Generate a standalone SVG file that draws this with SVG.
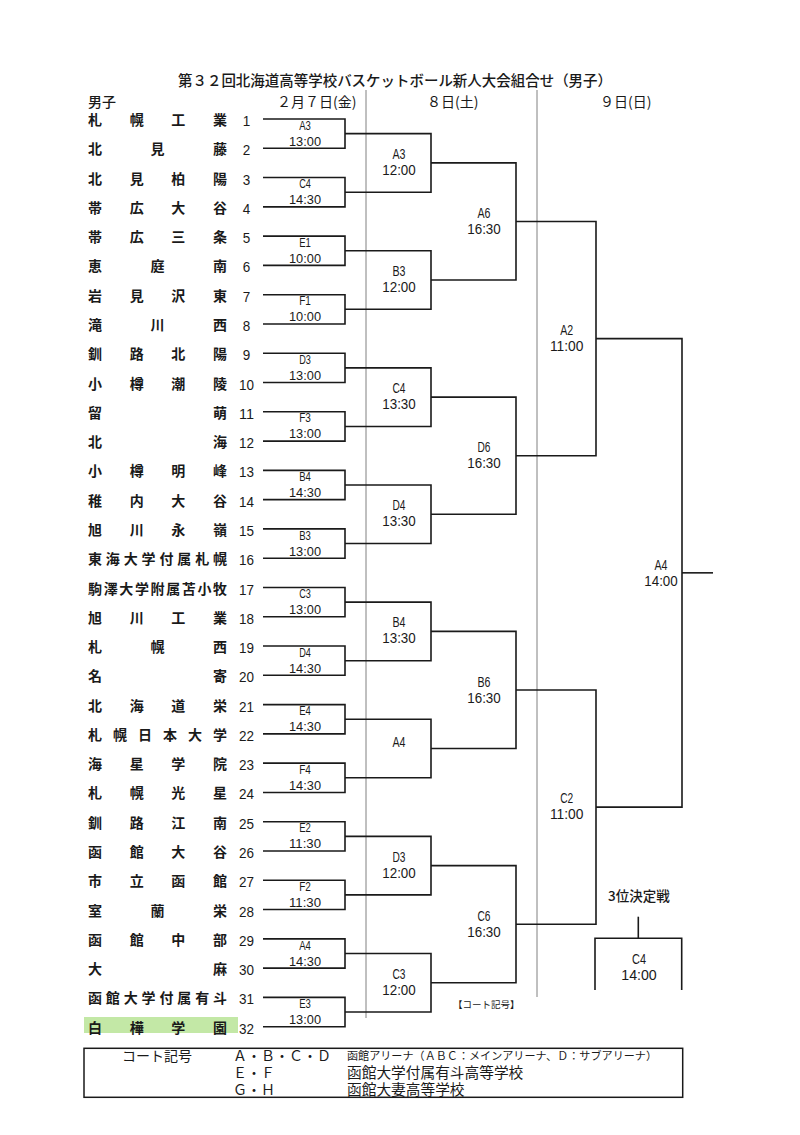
<svg xmlns="http://www.w3.org/2000/svg" width="800" height="1135" viewBox="0 0 800 1135">
<style>
.cjk{font-family:"Noto Sans CJK JP","Noto Sans CJK SC",sans-serif;fill:#1a1a1a}
.nm{font-size:14px;font-weight:bold}
.num{font-family:"Liberation Sans",Arial,sans-serif;font-size:15px;fill:#1a1a1a;text-anchor:middle}
.l1{font-family:"Liberation Sans",Arial,sans-serif;font-size:13.5px;fill:#1a1a1a;text-anchor:middle}
.l2{font-family:"Liberation Sans",Arial,sans-serif;font-size:14px;fill:#1a1a1a;text-anchor:middle}
.br{fill:none;stroke:#1a1a1a;stroke-width:1.6}
.sep{stroke:#808080;stroke-width:1;fill:none}
</style>
<rect width="800" height="1135" fill="#ffffff"/>

<g id="header">
<text class="cjk" x="178" y="86" font-size="14.5" font-weight="500" textLength="434" lengthAdjust="spacingAndGlyphs">第３２回北海道高等学校バスケットボール新人大会組合せ（男子）</text>
<text class="cjk" x="88" y="107" font-size="14" font-weight="500">男子</text>
<text class="cjk" x="277" y="107" font-size="14">２月７日(金)</text>
<text class="cjk" x="427" y="107" font-size="14">８日(土)</text>
<text class="cjk" x="600" y="107" font-size="14">９日(日)</text>
</g>

<g id="separators">
<line class="sep" x1="366" y1="90" x2="366" y2="1018"/>
<line class="sep" x1="537" y1="90" x2="537" y2="997"/>
</g>

<rect x="84" y="1017" width="154" height="16" fill="#b8e497" opacity="0.85"/>

<g id="teams">
<g id="t1"><text class="cjk nm" x="88 129.67 171.33 213" y="125">札幌工業</text><text class="num" x="246.5" y="126" textLength="7.5" lengthAdjust="spacingAndGlyphs">1</text></g>
<g id="t2"><text class="cjk nm" x="88 150.5 213" y="154.3">北見藤</text><text class="num" x="246.5" y="155.3" textLength="7.5" lengthAdjust="spacingAndGlyphs">2</text></g>
<g id="t3"><text class="cjk nm" x="88 129.67 171.33 213" y="183.6">北見柏陽</text><text class="num" x="246.5" y="184.6" textLength="7.5" lengthAdjust="spacingAndGlyphs">3</text></g>
<g id="t4"><text class="cjk nm" x="88 129.67 171.33 213" y="212.8">帯広大谷</text><text class="num" x="246.5" y="213.8" textLength="7.5" lengthAdjust="spacingAndGlyphs">4</text></g>
<g id="t5"><text class="cjk nm" x="88 129.67 171.33 213" y="242.1">帯広三条</text><text class="num" x="246.5" y="243.1" textLength="7.5" lengthAdjust="spacingAndGlyphs">5</text></g>
<g id="t6"><text class="cjk nm" x="88 150.5 213" y="271.4">恵庭南</text><text class="num" x="246.5" y="272.4" textLength="7.5" lengthAdjust="spacingAndGlyphs">6</text></g>
<g id="t7"><text class="cjk nm" x="88 129.67 171.33 213" y="300.7">岩見沢東</text><text class="num" x="246.5" y="301.7" textLength="7.5" lengthAdjust="spacingAndGlyphs">7</text></g>
<g id="t8"><text class="cjk nm" x="88 150.5 213" y="330">滝川西</text><text class="num" x="246.5" y="331" textLength="7.5" lengthAdjust="spacingAndGlyphs">8</text></g>
<g id="t9"><text class="cjk nm" x="88 129.67 171.33 213" y="359.2">釧路北陽</text><text class="num" x="246.5" y="360.2" textLength="7.5" lengthAdjust="spacingAndGlyphs">9</text></g>
<g id="t10"><text class="cjk nm" x="88 129.67 171.33 213" y="388.5">小樽潮陵</text><text class="num" x="246.5" y="389.5" textLength="15" lengthAdjust="spacingAndGlyphs">10</text></g>
<g id="t11"><text class="cjk nm" x="88 213" y="417.8">留萌</text><text class="num" x="246.5" y="418.8" textLength="15" lengthAdjust="spacingAndGlyphs">11</text></g>
<g id="t12"><text class="cjk nm" x="88 213" y="447.1">北海</text><text class="num" x="246.5" y="448.1" textLength="15" lengthAdjust="spacingAndGlyphs">12</text></g>
<g id="t13"><text class="cjk nm" x="88 129.67 171.33 213" y="476.4">小樽明峰</text><text class="num" x="246.5" y="477.4" textLength="15" lengthAdjust="spacingAndGlyphs">13</text></g>
<g id="t14"><text class="cjk nm" x="88 129.67 171.33 213" y="505.6">稚内大谷</text><text class="num" x="246.5" y="506.6" textLength="15" lengthAdjust="spacingAndGlyphs">14</text></g>
<g id="t15"><text class="cjk nm" x="88 129.67 171.33 213" y="534.9">旭川永嶺</text><text class="num" x="246.5" y="535.9" textLength="15" lengthAdjust="spacingAndGlyphs">15</text></g>
<g id="t16"><text class="cjk nm" x="88 105.86 123.71 141.57 159.43 177.29 195.14 213" y="564.2">東海大学付属札幌</text><text class="num" x="246.5" y="565.2" textLength="15" lengthAdjust="spacingAndGlyphs">16</text></g>
<g id="t17"><text class="cjk nm" x="88 103.63 119.25 134.88 150.5 166.13 181.75 197.38 213" y="593.5">駒澤大学附属苫小牧</text><text class="num" x="246.5" y="594.5" textLength="15" lengthAdjust="spacingAndGlyphs">17</text></g>
<g id="t18"><text class="cjk nm" x="88 129.67 171.33 213" y="622.8">旭川工業</text><text class="num" x="246.5" y="623.8" textLength="15" lengthAdjust="spacingAndGlyphs">18</text></g>
<g id="t19"><text class="cjk nm" x="88 150.5 213" y="652">札幌西</text><text class="num" x="246.5" y="653" textLength="15" lengthAdjust="spacingAndGlyphs">19</text></g>
<g id="t20"><text class="cjk nm" x="88 213" y="681.3">名寄</text><text class="num" x="246.5" y="682.3" textLength="15" lengthAdjust="spacingAndGlyphs">20</text></g>
<g id="t21"><text class="cjk nm" x="88 129.67 171.33 213" y="710.6">北海道栄</text><text class="num" x="246.5" y="711.6" textLength="15" lengthAdjust="spacingAndGlyphs">21</text></g>
<g id="t22"><text class="cjk nm" x="88 113 138 163 188 213" y="739.9">札幌日本大学</text><text class="num" x="246.5" y="740.9" textLength="15" lengthAdjust="spacingAndGlyphs">22</text></g>
<g id="t23"><text class="cjk nm" x="88 129.67 171.33 213" y="769.2">海星学院</text><text class="num" x="246.5" y="770.2" textLength="15" lengthAdjust="spacingAndGlyphs">23</text></g>
<g id="t24"><text class="cjk nm" x="88 129.67 171.33 213" y="798.4">札幌光星</text><text class="num" x="246.5" y="799.4" textLength="15" lengthAdjust="spacingAndGlyphs">24</text></g>
<g id="t25"><text class="cjk nm" x="88 129.67 171.33 213" y="827.7">釧路江南</text><text class="num" x="246.5" y="828.7" textLength="15" lengthAdjust="spacingAndGlyphs">25</text></g>
<g id="t26"><text class="cjk nm" x="88 129.67 171.33 213" y="857">函館大谷</text><text class="num" x="246.5" y="858" textLength="15" lengthAdjust="spacingAndGlyphs">26</text></g>
<g id="t27"><text class="cjk nm" x="88 129.67 171.33 213" y="886.3">市立函館</text><text class="num" x="246.5" y="887.3" textLength="15" lengthAdjust="spacingAndGlyphs">27</text></g>
<g id="t28"><text class="cjk nm" x="88 150.5 213" y="915.6">室蘭栄</text><text class="num" x="246.5" y="916.6" textLength="15" lengthAdjust="spacingAndGlyphs">28</text></g>
<g id="t29"><text class="cjk nm" x="88 129.67 171.33 213" y="944.8">函館中部</text><text class="num" x="246.5" y="945.8" textLength="15" lengthAdjust="spacingAndGlyphs">29</text></g>
<g id="t30"><text class="cjk nm" x="88 213" y="974.1">大麻</text><text class="num" x="246.5" y="975.1" textLength="15" lengthAdjust="spacingAndGlyphs">30</text></g>
<g id="t31"><text class="cjk nm" x="88 105.86 123.71 141.57 159.43 177.29 195.14 213" y="1003.4">函館大学付属有斗</text><text class="num" x="246.5" y="1004.4" textLength="15" lengthAdjust="spacingAndGlyphs">31</text></g>
<g id="t32"><text class="cjk nm" x="88 129.67 171.33 213" y="1032.7">白樺学園</text><text class="num" x="246.5" y="1033.7" textLength="15" lengthAdjust="spacingAndGlyphs">32</text></g>
</g>

<g id="connectors" class="br">
<path d="M263 119H345V148.28H263"/>
<path d="M263 177.56H345V206.84H263"/>
<path d="M263 236.12H345V265.4H263"/>
<path d="M263 294.68H345V323.96H263"/>
<path d="M263 353.24H345V382.52H263"/>
<path d="M263 411.8H345V441.08H263"/>
<path d="M263 470.36H345V499.64H263"/>
<path d="M263 528.92H345V558.2H263"/>
<path d="M263 587.48H345V616.76H263"/>
<path d="M263 646.04H345V675.32H263"/>
<path d="M263 704.6H345V733.88H263"/>
<path d="M263 763.16H345V792.44H263"/>
<path d="M263 821.72H345V851H263"/>
<path d="M263 880.28H345V909.56H263"/>
<path d="M263 938.84H345V968.12H263"/>
<path d="M263 997.4H345V1026.68H263"/>
<path d="M345 133.64H431V192.2H345"/>
<path d="M345 250.76H431V309.32H345"/>
<path d="M345 367.88H431V426.44H345"/>
<path d="M345 485H431V543.56H345"/>
<path d="M345 602.12H431V660.68H345"/>
<path d="M345 719.24H431V777.8H345"/>
<path d="M345 836.36H431V894.92H345"/>
<path d="M345 953.48H431V1012.04H345"/>
<path d="M431 162.92H516V280.04H431"/>
<path d="M431 397.16H516V514.28H431"/>
<path d="M431 631.4H516V748.52H431"/>
<path d="M431 865.64H516V982.76H431"/>
<path d="M516 221.48H596V455.72H516"/>
<path d="M516 689.96H596V924.2H516"/>
<path d="M596 338.6H682V807.08H596"/>
<path d="M682 572.84H713"/>
<path d="M638.3 916.7V938.3"/>
<path d="M595 990V938.3H681.7V990"/>
</g>

<g id="round1">
<g id="m1"><text class="l1" x="305" y="129.6" textLength="11.7" lengthAdjust="spacingAndGlyphs">A3</text><text class="l1" x="305" y="145.6" textLength="32" lengthAdjust="spacingAndGlyphs">13:00</text></g>
<g id="m2"><text class="l1" x="305" y="188.2" textLength="11.7" lengthAdjust="spacingAndGlyphs">C4</text><text class="l1" x="305" y="204.2" textLength="32" lengthAdjust="spacingAndGlyphs">14:30</text></g>
<g id="m3"><text class="l1" x="305" y="246.8" textLength="11.7" lengthAdjust="spacingAndGlyphs">E1</text><text class="l1" x="305" y="262.8" textLength="32" lengthAdjust="spacingAndGlyphs">10:00</text></g>
<g id="m4"><text class="l1" x="305" y="305.3" textLength="11.7" lengthAdjust="spacingAndGlyphs">F1</text><text class="l1" x="305" y="321.3" textLength="32" lengthAdjust="spacingAndGlyphs">10:00</text></g>
<g id="m5"><text class="l1" x="305" y="363.9" textLength="11.7" lengthAdjust="spacingAndGlyphs">D3</text><text class="l1" x="305" y="379.9" textLength="32" lengthAdjust="spacingAndGlyphs">13:00</text></g>
<g id="m6"><text class="l1" x="305" y="422.4" textLength="11.7" lengthAdjust="spacingAndGlyphs">F3</text><text class="l1" x="305" y="438.4" textLength="32" lengthAdjust="spacingAndGlyphs">13:00</text></g>
<g id="m7"><text class="l1" x="305" y="481" textLength="11.7" lengthAdjust="spacingAndGlyphs">B4</text><text class="l1" x="305" y="497" textLength="32" lengthAdjust="spacingAndGlyphs">14:30</text></g>
<g id="m8"><text class="l1" x="305" y="539.6" textLength="11.7" lengthAdjust="spacingAndGlyphs">B3</text><text class="l1" x="305" y="555.6" textLength="32" lengthAdjust="spacingAndGlyphs">13:00</text></g>
<g id="m9"><text class="l1" x="305" y="598.1" textLength="11.7" lengthAdjust="spacingAndGlyphs">C3</text><text class="l1" x="305" y="614.1" textLength="32" lengthAdjust="spacingAndGlyphs">13:00</text></g>
<g id="m10"><text class="l1" x="305" y="656.7" textLength="11.7" lengthAdjust="spacingAndGlyphs">D4</text><text class="l1" x="305" y="672.7" textLength="32" lengthAdjust="spacingAndGlyphs">14:30</text></g>
<g id="m11"><text class="l1" x="305" y="715.2" textLength="11.7" lengthAdjust="spacingAndGlyphs">E4</text><text class="l1" x="305" y="731.2" textLength="32" lengthAdjust="spacingAndGlyphs">14:30</text></g>
<g id="m12"><text class="l1" x="305" y="773.8" textLength="11.7" lengthAdjust="spacingAndGlyphs">F4</text><text class="l1" x="305" y="789.8" textLength="32" lengthAdjust="spacingAndGlyphs">14:30</text></g>
<g id="m13"><text class="l1" x="305" y="832.4" textLength="11.7" lengthAdjust="spacingAndGlyphs">E2</text><text class="l1" x="305" y="848.4" textLength="32" lengthAdjust="spacingAndGlyphs">11:30</text></g>
<g id="m14"><text class="l1" x="305" y="890.9" textLength="11.7" lengthAdjust="spacingAndGlyphs">F2</text><text class="l1" x="305" y="906.9" textLength="32" lengthAdjust="spacingAndGlyphs">11:30</text></g>
<g id="m15"><text class="l1" x="305" y="949.5" textLength="11.7" lengthAdjust="spacingAndGlyphs">A4</text><text class="l1" x="305" y="965.5" textLength="32" lengthAdjust="spacingAndGlyphs">14:30</text></g>
<g id="m16"><text class="l1" x="305" y="1008" textLength="11.7" lengthAdjust="spacingAndGlyphs">E3</text><text class="l1" x="305" y="1024" textLength="32" lengthAdjust="spacingAndGlyphs">13:00</text></g>
</g>

<g id="round2">
<g id="r2m1"><text class="l2" x="399" y="158.9" textLength="13" lengthAdjust="spacingAndGlyphs">A3</text><text class="l2" x="399" y="174.9" textLength="33.5" lengthAdjust="spacingAndGlyphs">12:00</text></g>
<g id="r2m2"><text class="l2" x="399" y="276" textLength="13" lengthAdjust="spacingAndGlyphs">B3</text><text class="l2" x="399" y="292" textLength="33.5" lengthAdjust="spacingAndGlyphs">12:00</text></g>
<g id="r2m3"><text class="l2" x="399" y="393.2" textLength="13" lengthAdjust="spacingAndGlyphs">C4</text><text class="l2" x="399" y="409.2" textLength="33.5" lengthAdjust="spacingAndGlyphs">13:30</text></g>
<g id="r2m4"><text class="l2" x="399" y="510.3" textLength="13" lengthAdjust="spacingAndGlyphs">D4</text><text class="l2" x="399" y="526.3" textLength="33.5" lengthAdjust="spacingAndGlyphs">13:30</text></g>
<g id="r2m5"><text class="l2" x="399" y="627.4" textLength="13" lengthAdjust="spacingAndGlyphs">B4</text><text class="l2" x="399" y="643.4" textLength="33.5" lengthAdjust="spacingAndGlyphs">13:30</text></g>
<g id="r2m6"><text class="l2" x="399" y="747.1" textLength="13" lengthAdjust="spacingAndGlyphs">A4</text></g>
<g id="r2m7"><text class="l2" x="399" y="861.6" textLength="13" lengthAdjust="spacingAndGlyphs">D3</text><text class="l2" x="399" y="877.6" textLength="33.5" lengthAdjust="spacingAndGlyphs">12:00</text></g>
<g id="r2m8"><text class="l2" x="399" y="978.8" textLength="13" lengthAdjust="spacingAndGlyphs">C3</text><text class="l2" x="399" y="994.8" textLength="33.5" lengthAdjust="spacingAndGlyphs">12:00</text></g>
</g>

<g id="round3">
<g id="r3m1"><text class="l2" x="484" y="218.2" textLength="13" lengthAdjust="spacingAndGlyphs">A6</text><text class="l2" x="484" y="234.2" textLength="33.5" lengthAdjust="spacingAndGlyphs">16:30</text></g>
<g id="r3m2"><text class="l2" x="484" y="452.4" textLength="13" lengthAdjust="spacingAndGlyphs">D6</text><text class="l2" x="484" y="468.4" textLength="33.5" lengthAdjust="spacingAndGlyphs">16:30</text></g>
<g id="r3m3"><text class="l2" x="484" y="686.7" textLength="13" lengthAdjust="spacingAndGlyphs">B6</text><text class="l2" x="484" y="702.7" textLength="33.5" lengthAdjust="spacingAndGlyphs">16:30</text></g>
<g id="r3m4"><text class="l2" x="484" y="920.9" textLength="13" lengthAdjust="spacingAndGlyphs">C6</text><text class="l2" x="484" y="936.9" textLength="33.5" lengthAdjust="spacingAndGlyphs">16:30</text></g>
</g>

<g id="round4">
<g id="r4m1"><text class="l2" x="566.7" y="334.9" textLength="13" lengthAdjust="spacingAndGlyphs">A2</text><text class="l2" x="566.7" y="350.9" textLength="33.5" lengthAdjust="spacingAndGlyphs">11:00</text></g>
<g id="r4m2"><text class="l2" x="566.7" y="803.4" textLength="13" lengthAdjust="spacingAndGlyphs">C2</text><text class="l2" x="566.7" y="819.4" textLength="33.5" lengthAdjust="spacingAndGlyphs">11:00</text></g>
</g>

<g id="final"><text class="l2" x="661" y="569.9" textLength="13" lengthAdjust="spacingAndGlyphs">A4</text><text class="l2" x="661" y="585.9" textLength="33.5" lengthAdjust="spacingAndGlyphs">14:00</text></g>

<g id="third-place">
<text class="cjk" x="608" y="901" font-size="13.5" font-weight="500">3位決定戦</text>
<text class="l2" x="639" y="963.6" textLength="14" lengthAdjust="spacingAndGlyphs">C4</text>
<text class="l2" x="639" y="979.6" textLength="35.5" lengthAdjust="spacingAndGlyphs">14:00</text>
</g>

<text class="cjk" x="453" y="1008" font-size="9.5">【コート記号】</text>

<g id="legend">
<rect x="84" y="1048.3" width="598.7" height="49" fill="none" stroke="#1a1a1a" stroke-width="1.5"/>
<text class="cjk" x="122" y="1061" font-size="14">コート記号</text>
<text class="cjk" x="233" y="1061" font-size="14">Ａ・Ｂ・Ｃ・Ｄ</text>
<text class="cjk" x="347" y="1060" font-size="11" textLength="310" lengthAdjust="spacingAndGlyphs">函館アリーナ（ＡＢＣ：メインアリーナ、Ｄ：サブアリーナ）</text>
<text class="cjk" x="233" y="1077.5" font-size="14">Ｅ・Ｆ</text>
<text class="cjk" x="347" y="1077.5" font-size="14.7">函館大学付属有斗高等学校</text>
<text class="cjk" x="233" y="1094.5" font-size="14">Ｇ・Ｈ</text>
<text class="cjk" x="347" y="1094.5" font-size="14.7">函館大妻高等学校</text>
</g>
</svg>
